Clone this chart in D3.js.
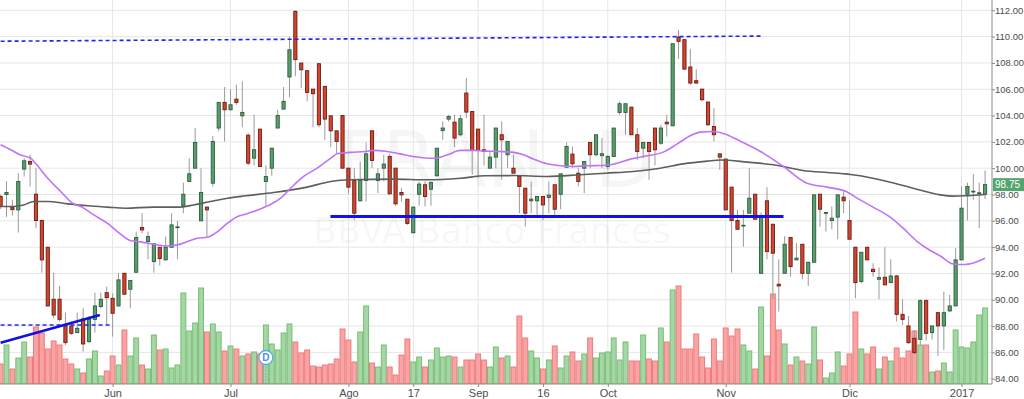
<!DOCTYPE html>
<html><head><meta charset="utf-8">
<script src="https://cdn.jsdelivr.net/npm/d3@7"></script>
<style>html,body{margin:0;padding:0;background:#fff;overflow:hidden}</style>
</head><body><svg id="c" width="1024" height="399"></svg>
<script>
// ---- data ----
const open = [97.85,98.0,97.04,96.83,99.93,100.51,98.02,96.02,93.99,90.04,
90.04,88.01,88.01,87.5,88.54,86.82,88.51,89.48,90.54,90.11,
89.53,92.01,90.8,92.09,95.49,94.42,92.9,93.99,93.03,93.99,
95.5,97.14,98.99,100.0,96.0,97.04,98.86,103.05,105.0,104.44,
105.25,103.98,102.51,100.76,102.97,98.99,100.0,103.05,104.49,106.93,
111.92,107.99,107.41,106.01,107.94,106.22,103.98,102.84,104.0,100.0,
99.06,97.52,99.06,102.84,99.06,100.0,100.89,100.0,98.15,97.64,
95.1,98.02,98.74,98.4,99.42,102.87,103.73,103.5,102.54,105.71,
104.31,102.97,101.4,100.0,100.84,102.54,101.02,100.0,99.37,98.48,
97.52,97.52,97.85,97.77,98.74,98.02,100.08,101.07,99.62,100.0,
101.96,101.02,100.95,100.13,100.89,104.24,104.24,104.64,102.54,101.52,
101.96,103.05,101.9,103.5,103.22,109.97,109.77,107.69,106.65,106.01,
105.03,103.17,101.09,100.69,98.56,96.02,95.62,96.58,98.02,92.01,
97.52,95.74,91.18,92.01,94.73,93.03,94.22,92.01,92.85,98.02,
96.58,96.02,96.28,97.8,96.02,93.99,91.38,93.99,92.32,91.56,
91.71,91.3,91.81,88.89,88.01,87.07,86.99,89.93,87.5,89.02,
88.01,89.15,89.53,93.03,98.02,98.2,98.07,98.02];
const high = [98.0,99.0,97.6,99.62,100.76,101.02,100.0,96.1,94.0,92.06,
91.05,89.02,88.34,89.02,89.35,88.77,90.54,90.54,91.0,90.49,
92.01,92.06,91.46,95.18,96.58,95.18,94.25,94.0,94.8,96.58,
96.0,98.9,100.76,103.05,100.0,97.1,102.46,105.0,106.17,106.0,
106.34,106.6,102.67,104.06,102.97,100.2,101.52,104.44,106.17,110.0,
112.0,108.0,107.41,106.01,107.99,106.22,103.98,102.84,104.0,100.0,
100.0,100.5,101.96,102.84,100.0,101.02,101.09,100.0,98.48,97.64,
97.1,98.99,98.99,98.99,101.52,103.55,104.06,104.06,104.06,106.85,
104.31,102.97,104.06,101.27,103.05,103.55,102.03,101.02,99.37,98.48,
98.99,97.85,97.85,98.99,98.74,99.57,101.96,101.65,100.0,100.51,
101.96,102.54,102.29,101.02,103.05,105.08,104.9,104.64,103.05,101.96,
101.96,103.05,103.3,104.06,109.46,110.53,109.77,109.06,107.53,106.01,
105.03,104.57,101.09,100.76,98.56,96.83,96.83,100.0,98.02,96.63,
98.56,95.74,93.08,94.85,94.73,94.3,94.22,92.85,98.05,98.02,
96.63,97.09,98.02,98.23,97.52,93.99,93.61,93.99,92.77,92.45,
93.99,93.08,91.89,90.04,88.77,87.7,90.04,90.04,88.01,89.02,
90.62,90.37,93.92,98.61,98.91,99.57,98.9,99.83];
const low = [96.9,96.3,96.4,95.11,99.37,98.61,95.44,92.06,89.5,88.59,
88.34,86.56,87.32,87.45,86.05,86.69,87.5,89.35,88.08,87.2,
89.48,90.4,89.35,92.09,95.06,93.08,92.06,92.6,93.0,93.99,
93.08,96.58,98.99,100.0,96.0,94.75,98.61,102.8,102.03,104.4,
104.82,103.1,100.2,100.2,100.1,97.14,99.42,103.05,104.49,105.4,
106.98,106.09,105.08,103.1,103.1,102.16,101.6,101.14,100.0,98.05,
96.07,97.47,97.47,100.0,98.1,98.99,98.02,97.14,97.47,95.7,
95.0,97.14,97.09,97.14,99.37,102.16,103.55,101.6,102.41,103.81,
99.5,99.24,100.2,100.0,100.0,99.12,100.0,99.62,96.58,95.56,
96.58,96.45,96.07,96.58,96.33,96.88,100.0,100.0,98.61,98.1,
100.0,100.89,100.0,99.88,100.89,104.06,102.54,102.54,100.64,100.76,
99.12,100.2,101.78,102.41,103.22,108.3,107.48,106.34,106.42,105.08,
103.22,102.03,99.88,96.83,92.06,95.31,94.04,96.58,96.07,92.01,
93.08,90.04,89.1,92.01,91.76,93.03,91.56,91.05,92.85,95.56,
95.18,95.36,94.6,96.58,94.6,90.11,91.25,93.03,91.76,90.04,
91.13,91.3,88.34,88.08,86.64,85.8,86.56,86.89,86.99,85.72,
86.18,89.1,89.53,93.03,96.02,97.6,95.44,97.65];
const close = [97.1,98.15,96.85,98.99,100.56,100.31,96.02,93.03,89.53,88.84,
88.51,86.74,87.45,87.83,86.64,88.51,89.53,90.04,90.16,88.97,
91.51,90.42,91.46,94.73,95.31,94.8,94.25,93.13,93.99,95.69,
95.54,98.02,99.57,101.96,98.15,96.83,102.03,105.0,104.44,104.82,
105.0,104.24,100.38,101.4,100.13,99.37,101.52,104.0,105.08,109.0,
108.25,107.48,105.76,105.66,103.3,103.73,102.84,102.03,100.0,98.56,
96.58,99.06,101.09,100.59,99.57,100.31,98.05,97.29,97.97,95.8,
97.04,98.79,97.85,98.91,101.52,103.05,103.93,102.29,103.76,104.26,
101.35,101.35,101.27,100.84,103.05,102.16,102.03,99.62,98.61,96.58,
97.65,97.85,97.21,97.95,96.88,99.57,101.65,100.33,98.99,100.51,
101.02,102.54,101.1,100.89,103.05,104.9,104.9,102.54,101.27,101.96,
101.27,101.4,103.05,103.37,109.46,109.64,107.53,106.47,106.47,105.2,
103.3,102.54,100.84,96.83,96.02,95.36,95.66,97.72,96.12,96.33,
93.66,93.54,91.05,94.22,92.52,93.16,92.01,92.85,97.97,96.88,
96.63,96.2,97.97,97.52,94.6,91.3,93.61,93.03,92.14,91.68,
91.13,91.81,88.89,88.51,86.74,85.98,89.93,87.45,88.01,88.01,
89.02,89.53,93.03,96.96,98.61,98.25,98.13,98.75];
const volume = [20,39,15,26,42,27,57,51,35,43,
39,25,20,15,11,25,33,8,13,28,
19,54,28,46,19,15,49,34,35,16,
19,91,53,61,96,52,60,52,33,38,
35,28,30,32,30,59,40,34,51,60,
42,31,34,18,17,19,20,25,55,44,
22,52,78,21,17,39,17,9,29,45,
22,27,17,24,36,27,28,27,17,24,
24,30,24,17,37,26,28,17,68,46,
33,26,15,24,38,16,28,32,23,30,
46,26,31,32,46,24,42,23,23,49,
25,23,56,42,94,98,35,35,50,27,
16,45,23,56,48,55,39,33,15,77,
28,90,54,40,19,27,23,20,57,24,
6,11,32,18,30,72,35,30,37,15,
27,23,36,26,33,53,39,39,12,13,
21,12,54,37,36,42,69,76];

// moving averages, read at sample candles
const maFastIdx = [0,1.7,3.4,5.1,5.9,8,10.2,12.2,13.6,15.8,18.1,20.3,22,23.7,25.9,28.3,30,31.7,33.4,35.1,36.8,38.5,40.2,41.5,42.9,45.3,47.5,49.2,51.4,53.7,56,57.1,59.3,61.9,63.2,65.6,67.8,70,72.4,73.8,75.8,78,80.2,82.2,84.8,87,88.7,90.4,92.7,94.9,97.2,99.5,102.6,103.9,106.8,109.7,112.4,114.8,117,118.7,120.9,122.9,125,128.9,132.8,136.8,140.2,143.3,145.8,148,150.9,153.1,155.5,157.7,159.4,161.6,163.6,167];
const maFastVal = [101.78,101.4,101.0,100.76,100.38,99.24,98.23,97.34,97.09,96.45,95.82,95.0,94.5,94.4,94.22,94.09,94.17,94.42,94.68,94.75,95.18,95.82,96.33,96.5,96.7,97.14,97.72,98.48,99.37,100.0,100.76,101.09,101.2,101.27,101.35,101.27,101.09,100.89,100.76,100.76,101.02,101.35,101.35,101.3,101.27,101.2,101.02,100.69,100.33,100.18,100.13,100.18,100.22,100.3,100.69,100.94,101.22,101.85,102.46,102.74,102.79,102.6,102.16,101.27,100.13,98.86,98.56,98.25,97.59,97.04,96.28,95.44,94.42,93.74,93.33,92.72,92.68,93.16];
const maSlowIdx = [0,2.2,3.9,5.6,8,11.4,14.8,18.1,21.2,25.9,30,32.7,35.6,38.5,41.5,46.3,52,56,59.3,66.6,72.4,78,82.2,87,92.7,98.3,102.6,107.3,111.9,115.8,119.9,122.1,126.7,131.1,136.1,140.2,143.3,145.8,150.4,154.8,159.4,161.6,163.6,167];
const maSlowVal = [97.09,97.09,97.2,97.47,97.47,97.29,97.14,97.04,96.96,97.04,97.04,97.2,97.47,97.72,97.9,98.15,98.56,98.99,99.12,99.17,99.12,99.24,99.42,99.44,99.37,99.5,99.62,99.75,100.0,100.33,100.54,100.62,100.46,100.26,99.83,99.67,99.57,99.42,98.99,98.48,97.97,97.88,97.9,98.0];

// axis ticks
const priceTicks = [84,86,88,90,92,94,96,98,100,102,104,106,108,110,112];
const tickIndex = [19,39,59,70,81,92,103,123,144,163];
const tickLabels = ["Jun","Jul","Ago","17","Sep","16","Oct","Nov","Dic","2017"];

// drawn lines: [startIndex, startPrice, endIndex, endPrice]
const resistance = [0,109.65,128.9,110.04];
const support = [55.95,96.33,132.8,96.33];
const lowLevel = [0,88.08,18.65,88.08];
const trendLine = [0,86.74,16.84,88.85];
const dividendIndex = 45;
const lastPrice = 98.75;
const symbolText = "FRAN, D";
const nameText = "BBVA Banco Frances";

// ---- drawing ----
const W = 1024, H = 399, PR = 992, PB = 384;
const svg = d3.select("#c");
const x = d3.scaleLinear().domain([0, 167]).range([0.6, 985.1]);
const y = d3.scaleLinear().domain([84, 112]).range([378.7, 10.3]);
const yv = d3.scaleLinear().domain([0, 100]).range([PB, PB - 100]);
const step = x(1) - x(0);

svg.append("rect").attr("width", W).attr("height", H).attr("fill", "#fff");
svg.append("defs").append("clipPath").attr("id", "plot")
  .append("rect").attr("x", 0).attr("y", 0).attr("width", PR).attr("height", PB);

const plot = svg.append("g").attr("clip-path", "url(#plot)");

// grid
plot.append("g").selectAll("line").data(priceTicks).join("line")
  .attr("x1", 0).attr("x2", PR).attr("y1", d => y(d)).attr("y2", d => y(d))
  .attr("stroke", "#e6e6e6").attr("stroke-width", 1);
plot.append("g").selectAll("line").data(tickIndex).join("line")
  .attr("x1", d => x(d)).attr("x2", d => x(d)).attr("y1", 0).attr("y2", PB)
  .attr("stroke", "#e6e6e6").attr("stroke-width", 1);

// watermark
plot.append("text").attr("x", 496).attr("y", 187).attr("text-anchor", "middle")
  .attr("font-family", "DejaVu Sans").attr("font-size", 78)
  .attr("fill", "rgba(0,0,0,0.035)").text(symbolText);
plot.append("text").attr("x", 492).attr("y", 243).attr("text-anchor", "middle")
  .attr("font-family", "DejaVu Sans").attr("font-size", 35)
  .attr("fill", "rgba(0,0,0,0.035)").text(nameText);

const idx = d3.range(open.length);
const up = i => close[i] >= open[i];

// volume
plot.append("g").selectAll("rect").data(idx).join("rect")
  .attr("x", i => x(i) - step / 2 + 0.5).attr("width", step - 1)
  .attr("y", i => yv(volume[i])).attr("height", i => PB - yv(volume[i]))
  .attr("fill", i => up(i) ? "#a6d6a6" : "#f8a4a4")
  .attr("stroke", i => up(i) ? "#74bf74" : "#ef7a7a").attr("stroke-width", 1);

// candles
const cg = plot.append("g");
cg.selectAll("line").data(idx).join("line")
  .attr("x1", i => x(i)).attr("x2", i => x(i))
  .attr("y1", i => y(high[i])).attr("y2", i => y(low[i]))
  .attr("stroke", "#9a9a9a").attr("stroke-width", 1);
cg.selectAll("rect").data(idx).join("rect")
  .attr("x", i => x(i) - 1.6).attr("width", 3.2)
  .attr("y", i => y(Math.max(open[i], close[i])))
  .attr("height", i => Math.max(0.8, Math.abs(y(open[i]) - y(close[i]))))
  .attr("fill", i => up(i) ? "#5b9e6e" : "#d4442f")
  .attr("stroke", i => up(i) ? "#2c5e3c" : "#6b1d12").attr("stroke-width", 0.9);

// moving averages
const line = d3.line().x(d => x(d[0])).y(d => y(d[1])).curve(d3.curveMonotoneX);
plot.append("path").datum(maSlowIdx.map((d, k) => [d, maSlowVal[k]]))
  .attr("d", line).attr("fill", "none").attr("stroke", "#5e5e5e").attr("stroke-width", 1.6);
plot.append("path").datum(maFastIdx.map((d, k) => [d, maFastVal[k]]))
  .attr("d", line).attr("fill", "none").attr("stroke", "#c073f5").attr("stroke-width", 1.6);

// user drawn lines
function seg(a, color, w, dash) {
  plot.append("line").attr("x1", x(a[0])).attr("y1", y(a[1]))
    .attr("x2", x(a[2])).attr("y2", y(a[3]))
    .attr("stroke", color).attr("stroke-width", w)
    .attr("stroke-dasharray", dash || null);
}
seg(resistance, "#2424f0", 1.6, "4,3");
seg(lowLevel, "#2424f0", 1.6, "4,3");
seg(support, "#1010f5", 3);
seg(trendLine, "#1212e0", 2.6);

// dividend marker
const dx = x(dividendIndex);
plot.append("line").attr("x1", dx).attr("x2", dx).attr("y1", 364).attr("y2", PB)
  .attr("stroke", "#58a8ee").attr("stroke-width", 1).attr("stroke-dasharray", "1.5,1.5");
plot.append("circle").attr("cx", dx).attr("cy", 357.5).attr("r", 7)
  .attr("fill", "#fff").attr("stroke", "#58a8ee").attr("stroke-width", 1.3);
plot.append("text").attr("x", dx).attr("y", 361.3).attr("text-anchor", "middle")
  .attr("font-family", "Liberation Sans, Arial").attr("font-size", 10).attr("font-weight", "bold")
  .attr("fill", "#3d96e6").text("D");

// axes
const ya = svg.append("g").attr("transform", `translate(${PR},0)`)
  .call(d3.axisRight(y).tickValues(priceTicks).tickFormat(d3.format(".2f")).tickSize(3).tickPadding(0).tickSizeOuter(0));
ya.select(".domain").attr("stroke", "#8c8c8c").attr("d", `M0,0V${PB}`);
ya.selectAll(".tick line").attr("stroke", "#8c8c8c");
ya.selectAll("text").attr("font-family", "Liberation Sans, Arial").attr("font-size", 9.5).attr("fill", "#4d4d4d");

const xa = svg.append("g").attr("transform", `translate(0,${PB})`)
  .call(d3.axisBottom(x).tickValues(tickIndex).tickFormat((d, k) => tickLabels[k]).tickSize(3).tickPadding(2).tickSizeOuter(0));
xa.select(".domain").attr("stroke", "#8c8c8c").attr("d", `M0,0H${PR}`);
xa.selectAll(".tick line").attr("stroke", "#8c8c8c");
xa.selectAll("text").attr("font-family", "Liberation Sans, Arial").attr("font-size", 11).attr("fill", "#4d4d4d");

// last price label
const ly = y(lastPrice);
svg.append("rect").attr("x", PR + 1).attr("y", ly - 6.5).attr("width", W - PR - 1).attr("height", 13)
  .attr("fill", "#53a56d");
svg.append("text").attr("x", PR + 3).attr("y", ly + 3.6).attr("font-family", "Liberation Sans, Arial")
  .attr("font-size", 10).attr("fill", "#fff").text(d3.format(".2f")(lastPrice));
</script></body></html>
